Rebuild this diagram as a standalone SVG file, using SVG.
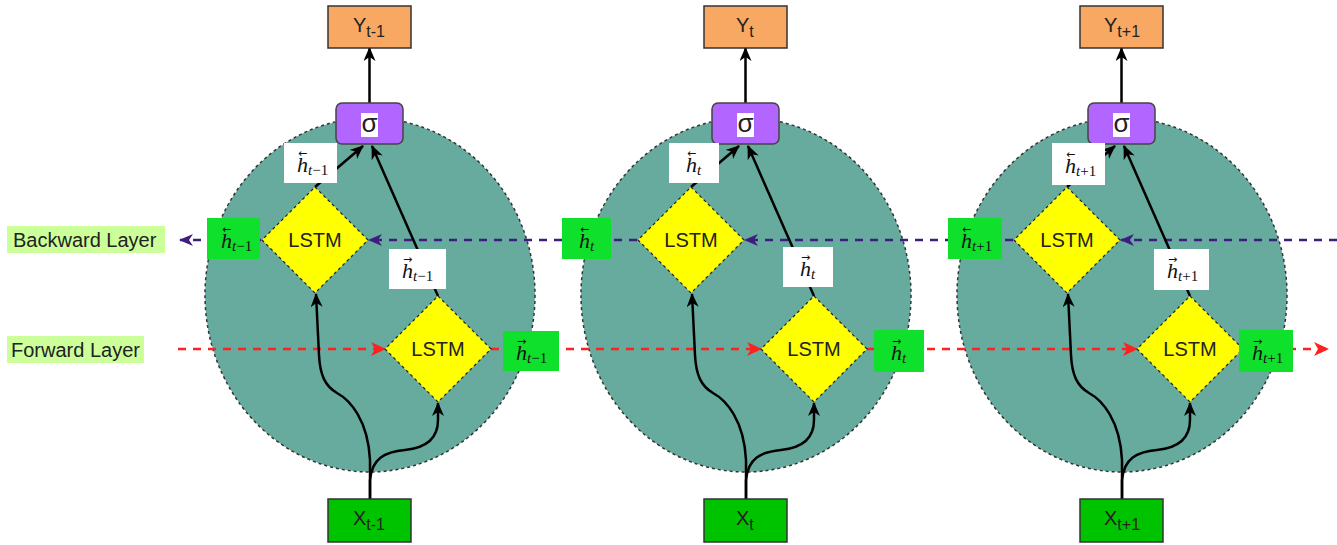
<svg xmlns="http://www.w3.org/2000/svg" width="1337" height="545" viewBox="0 0 1337 545">
<style>
.cell{fill:#67ab9f;stroke:#333;stroke-width:1.5;stroke-dasharray:3 3}
.lstm{fill:#ffff00;stroke:#222;stroke-width:1.2;stroke-dasharray:3 3}
.y{fill:#f8a862;stroke:#333;stroke-width:1.5}
.x{fill:#00c300;stroke:#333;stroke-width:1.5}
.sig{fill:#b266ff;stroke:#444;stroke-width:1.5}
.t{font-family:"Liberation Sans",Arial,sans-serif;fill:#222}
.blk{fill:none;stroke:#000;stroke-width:2.5}
.bw{fill:none;stroke:#3f1d80;stroke-width:2.5;stroke-dasharray:8 7}
.fw{fill:none;stroke:#ff2020;stroke-width:2.5;stroke-dasharray:8 7}
.gl{fill:#0fe02c}
.wl{fill:#fff}
.lay{fill:#ccff99}
.m{font-family:"Liberation Serif","Times New Roman",serif;fill:#111;font-size:22px}
.i{font-style:italic}
.s{font-size:15px}
.acc{font-family:"DejaVu Sans",sans-serif;font-size:11px;font-style:normal}
</style>
<defs>
<marker id="ab" viewBox="0 0 14 12" refX="13" refY="6" markerWidth="14" markerHeight="12" markerUnits="userSpaceOnUse" orient="auto"><path d="M0,0 L14,6 L0,12 L4,6 Z" fill="#000"/></marker>
<marker id="ap" viewBox="0 0 14 12" refX="13" refY="6" markerWidth="14" markerHeight="12" markerUnits="userSpaceOnUse" orient="auto"><path d="M0,0 L14,6 L0,12 L4,6 Z" fill="#3f1d80"/></marker>
<marker id="ar" viewBox="0 0 15 14" refX="14" refY="7" markerWidth="15" markerHeight="14" markerUnits="userSpaceOnUse" orient="auto"><path d="M0,0 L15,7 L0,14 L4,7 Z" fill="#ff2020"/></marker>
</defs>

<g id="cell1"><ellipse class="cell" cx="370" cy="295" rx="165" ry="177"/></g>
<g id="cell2"><ellipse class="cell" cx="746" cy="295" rx="165" ry="177"/></g>
<g id="cell3"><ellipse class="cell" cx="1122" cy="295" rx="165" ry="177"/></g>

<g id="backward-label"><rect class="lay" x="7" y="226" width="158" height="27"/><text class="t" x="13" y="247" font-size="20" fill="#333">Backward Layer</text></g>
<g id="forward-label"><rect class="lay" x="7" y="336" width="137" height="27"/><text class="t" x="11" y="357" font-size="20" fill="#333">Forward Layer</text></g>

<g id="connectors">
<path class="bw" d="M1337,240 L1121,240" marker-end="url(#ap)"/>
<path class="bw" d="M1013,240 L745,240" marker-end="url(#ap)"/>
<path class="bw" d="M637,240 L369,240" marker-end="url(#ap)"/>
<path class="bw" d="M261,240 L180,240" marker-end="url(#ap)"/>
<path class="fw" d="M178,349 L385,349" marker-end="url(#ar)"/>
<path class="fw" d="M491,349 L761,349" marker-end="url(#ar)"/>
<path class="fw" d="M867,349 L1137,349" marker-end="url(#ar)"/>
<path class="fw" d="M1243,349 L1328,349" marker-end="url(#ar)"/>
<g id="c1conn">
<path class="blk" d="M369.5,103 L369.5,48" marker-end="url(#ab)"/>
<path class="blk" d="M315,187 L363,146" marker-end="url(#ab)"/>
<path class="blk" d="M438,296 L372,146" marker-end="url(#ab)"/>
<path class="blk" d="M370,499 L370,460 C368,420 350,400 337,393 C325,386 320,375 319,355 L316,294" marker-end="url(#ab)"/>
<path class="blk" d="M370,499 L370,480 C372,458 385,452 405,450 C425,448 438,440 438,420 L438,403" marker-end="url(#ab)"/>
</g>
<g id="c2conn" transform="translate(376,0)">
<path class="blk" d="M369.5,103 L369.5,48" marker-end="url(#ab)"/>
<path class="blk" d="M315,187 L363,146" marker-end="url(#ab)"/>
<path class="blk" d="M438,296 L372,146" marker-end="url(#ab)"/>
<path class="blk" d="M370,499 L370,460 C368,420 350,400 337,393 C325,386 320,375 319,355 L316,294" marker-end="url(#ab)"/>
<path class="blk" d="M370,499 L370,480 C372,458 385,452 405,450 C425,448 438,440 438,420 L438,403" marker-end="url(#ab)"/>
</g>
<g id="c3conn" transform="translate(752,0)">
<path class="blk" d="M369.5,103 L369.5,48" marker-end="url(#ab)"/>
<path class="blk" d="M315,187 L363,146" marker-end="url(#ab)"/>
<path class="blk" d="M438,296 L372,146" marker-end="url(#ab)"/>
<path class="blk" d="M370,499 L370,460 C368,420 350,400 337,393 C325,386 320,375 319,355 L316,294" marker-end="url(#ab)"/>
<path class="blk" d="M370,499 L370,480 C372,458 385,452 405,450 C425,448 438,440 438,420 L438,403" marker-end="url(#ab)"/>
</g>
</g>

<g id="y1"><rect class="y" x="328" y="6" width="83" height="42"/><text class="t" x="353" y="32" font-size="20">Y<tspan font-size="16" dy="5">t-1</tspan></text></g>
<g id="s1"><rect class="sig" x="336" y="103" width="67" height="41" rx="6"/><rect fill="#fff" x="361" y="113" width="17" height="24"/><text class="t" x="369.5" y="132" font-size="26" text-anchor="middle" fill="#333">σ</text></g>
<g id="lb1"><polygon class="lstm" points="315,187 368,240 315,293 262,240"/><text class="t" x="315" y="247" font-size="20" text-anchor="middle">LSTM</text></g>
<g id="lf1"><polygon class="lstm" points="438,296 491,349 438,402 385,349"/><text class="t" x="438" y="356" font-size="20" text-anchor="middle">LSTM</text></g>
<g id="x1"><rect class="x" x="328" y="499" width="83" height="43"/><text class="t" x="353" y="525" font-size="20">X<tspan font-size="16" dy="5">t-1</tspan></text></g>

<g id="y2"><rect class="y" x="704" y="6" width="83" height="42"/><text class="t" x="736" y="32" font-size="20">Y<tspan font-size="16" dy="5">t</tspan></text></g>
<g id="s2"><rect class="sig" x="712" y="103" width="67" height="41" rx="6"/><rect fill="#fff" x="737" y="113" width="17" height="24"/><text class="t" x="745.5" y="132" font-size="26" text-anchor="middle" fill="#333">σ</text></g>
<g id="lb2"><polygon class="lstm" points="691,187 744,240 691,293 638,240"/><text class="t" x="691" y="247" font-size="20" text-anchor="middle">LSTM</text></g>
<g id="lf2"><polygon class="lstm" points="814,296 867,349 814,402 761,349"/><text class="t" x="814" y="356" font-size="20" text-anchor="middle">LSTM</text></g>
<g id="x2"><rect class="x" x="704" y="499" width="83" height="43"/><text class="t" x="736" y="525" font-size="20">X<tspan font-size="16" dy="5">t</tspan></text></g>

<g id="y3"><rect class="y" x="1080" y="6" width="83" height="42"/><text class="t" x="1104" y="32" font-size="20">Y<tspan font-size="16" dy="5">t+1</tspan></text></g>
<g id="s3"><rect class="sig" x="1088" y="103" width="67" height="41" rx="6"/><rect fill="#fff" x="1113" y="113" width="17" height="24"/><text class="t" x="1121.5" y="132" font-size="26" text-anchor="middle" fill="#333">σ</text></g>
<g id="lb3"><polygon class="lstm" points="1067,187 1120,240 1067,293 1014,240"/><text class="t" x="1067" y="247" font-size="20" text-anchor="middle">LSTM</text></g>
<g id="lf3"><polygon class="lstm" points="1190,296 1243,349 1190,402 1137,349"/><text class="t" x="1190" y="356" font-size="20" text-anchor="middle">LSTM</text></g>
<g id="x3"><rect class="x" x="1080" y="499" width="83" height="43"/><text class="t" x="1104" y="525" font-size="20">X<tspan font-size="16" dy="5">t+1</tspan></text></g>

<g id="hb1g"><rect class="gl" x="207" y="218" width="53" height="41"/><text class="m" x="221" y="248"><tspan class="i">h</tspan><tspan class="s" dy="3"><tspan class="i">t</tspan>−1</tspan><tspan class="acc" x="222" y="233">←</tspan></text></g>
<g id="hb2g"><rect class="gl" x="562" y="218" width="49" height="41"/><text class="m" x="579" y="248"><tspan class="i">h</tspan><tspan class="s i" dy="3">t</tspan><tspan class="acc" x="580" y="233">←</tspan></text></g>
<g id="hb3g"><rect class="gl" x="948" y="218" width="54" height="41"/><text class="m" x="961" y="248"><tspan class="i">h</tspan><tspan class="s" dy="3"><tspan class="i">t</tspan>+1</tspan><tspan class="acc" x="962" y="233">←</tspan></text></g>

<g id="hf1g"><rect class="gl" x="503" y="331" width="56" height="40"/><text class="m" x="516" y="360"><tspan class="i">h</tspan><tspan class="s" dy="3"><tspan class="i">t</tspan>−1</tspan><tspan class="acc" x="517" y="345">→</tspan></text></g>
<g id="hf2g"><rect class="gl" x="874" y="330" width="50" height="42"/><text class="m" x="891" y="360"><tspan class="i">h</tspan><tspan class="s i" dy="3">t</tspan><tspan class="acc" x="892" y="345">→</tspan></text></g>
<g id="hf3g"><rect class="gl" x="1239" y="330" width="54" height="42"/><text class="m" x="1252" y="360"><tspan class="i">h</tspan><tspan class="s" dy="3"><tspan class="i">t</tspan>+1</tspan><tspan class="acc" x="1253" y="345">→</tspan></text></g>

<g id="hb1w"><rect class="wl" x="284" y="143" width="53" height="40"/><text class="m" x="297" y="172"><tspan class="i">h</tspan><tspan class="s" dy="3"><tspan class="i">t</tspan>−1</tspan><tspan class="acc" x="298" y="157">←</tspan></text></g>
<g id="hf1w"><rect class="wl" x="389" y="249" width="57" height="40"/><text class="m" x="402" y="278"><tspan class="i">h</tspan><tspan class="s" dy="3"><tspan class="i">t</tspan>−1</tspan><tspan class="acc" x="403" y="263">→</tspan></text></g>
<g id="hb2w"><rect class="wl" x="669" y="143" width="50" height="40"/><text class="m" x="686" y="172"><tspan class="i">h</tspan><tspan class="s i" dy="3">t</tspan><tspan class="acc" x="687" y="157">←</tspan></text></g>
<g id="hf2w"><rect class="wl" x="783" y="247" width="50" height="40"/><text class="m" x="800" y="276"><tspan class="i">h</tspan><tspan class="s i" dy="3">t</tspan><tspan class="acc" x="801" y="261">→</tspan></text></g>
<g id="hb3w"><rect class="wl" x="1052" y="143" width="53" height="42"/><text class="m" x="1065" y="173"><tspan class="i">h</tspan><tspan class="s" dy="3"><tspan class="i">t</tspan>+1</tspan><tspan class="acc" x="1066" y="158">←</tspan></text></g>
<g id="hf3w"><rect class="wl" x="1154" y="249" width="55" height="41"/><text class="m" x="1167" y="278"><tspan class="i">h</tspan><tspan class="s" dy="3"><tspan class="i">t</tspan>+1</tspan><tspan class="acc" x="1168" y="263">→</tspan></text></g>
</svg>
